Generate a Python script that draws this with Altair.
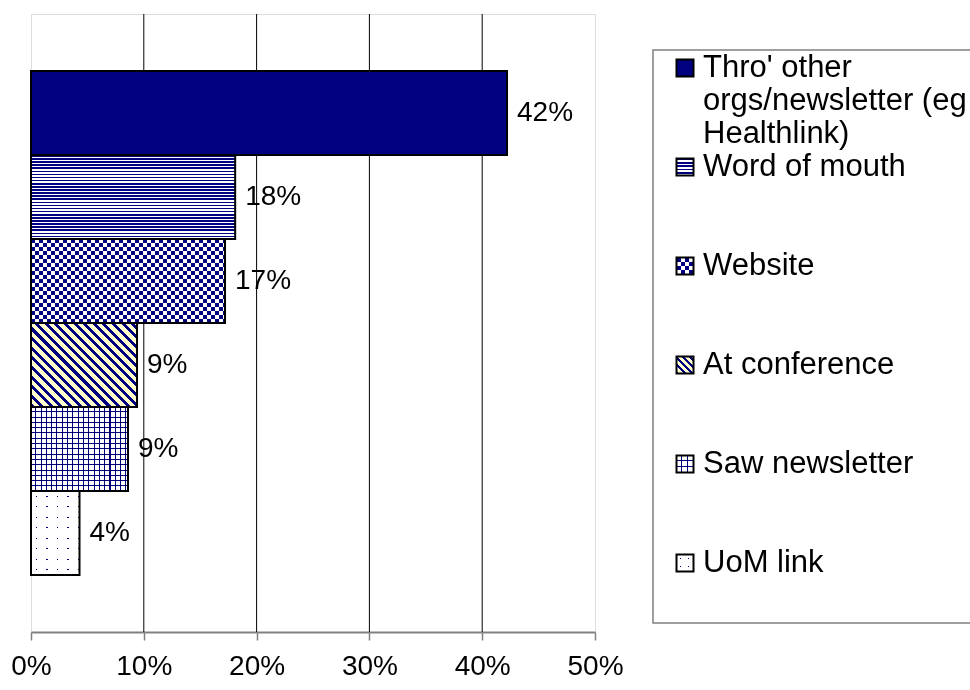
import altair as alt
import pandas as pd

# ---------------- data ----------------
series = [
    "Thro' other orgs/newsletter (eg Healthlink)",
    "Word of mouth",
    "Website",
    "At conference",
    "Saw newsletter",
    "UoM link",
]
legend_labels = [
    "Thro' other\norgs/newsletter (eg\nHealthlink)",
    "Word of mouth",
    "Website",
    "At conference",
    "Saw newsletter",
    "UoM link",
]
values = [0.422, 0.181, 0.172, 0.094, 0.086, 0.043]
x_ticks = [0.0, 0.1, 0.2, 0.3, 0.4, 0.5]
patterns = ["solid", "hstripes", "checker", "diag", "grid", "dots"]

# ---------------- style ----------------
FONT = "Liberation Sans"
W, H = 564, 618
PAD_L, PAD_T = 31, 14
XMAX = 0.5
PAD_OUTER = 0.68
BAR_H = H / (len(series) + 2 * PAD_OUTER)
NAVY, YELLOW, WHITE, BLACK = "#000080", "#FFFFCC", "#FFFFFF", "#000000"


def grad(period, length, parts, x1, y1, x2, y2):
    n = length / period
    stops = []
    i = 0
    while i < n:
        cum = 0.0
        for color, frac in parts:
            a = (i + cum) / n
            if a >= 1:
                break
            b = min((i + cum + frac) / n, 1.0)
            stops.append(alt.GradientStop(offset=round(a, 5), color=color))
            stops.append(alt.GradientStop(offset=round(b, 5), color=color))
            cum += frac
        i += 1
    return alt.LinearGradient(gradient="linear", stops=stops, x1=x1, y1=y1, x2=x2, y2=y2)


def diag(period, w, h, parts):
    r = h / w
    s = (1 + r) / (1 + r * r)
    length = (w + h) / 2 ** 0.5
    return grad(period, length, parts, 0, 1, s, 1 - s * r)


def pattern(kind, w, h, legend=False):
    if kind == "solid":
        return [(NAVY, None)]
    if kind == "hstripes":
        p = 3.4 if legend else 3.1
        return [(grad(p, h, [(NAVY, 0.5), (WHITE, 0.5)], 0, 0, 0, 1), None)]
    if kind == "checker":
        c = 4.25 if legend else 4.0
        return [
            (grad(2 * c, h, [(BLACK, 0.5), (WHITE, 0.5)], 0, 0, 0, 1), None),
            (grad(2 * c, w, [(BLACK, 0.5), (WHITE, 0.5)], 0, 0, 1, 0), "difference"),
            (NAVY, "lighten"),
        ]
    if kind == "diag":
        p = 5.0 if legend else 6.8
        return [(diag(p, w, h, [(NAVY, 0.42), (YELLOW, 0.58)]), None)]
    if kind == "grid":
        p = 5.7 if legend else 5.3
        f = 1.0 / p
        return [
            (grad(p, h, [(WHITE, 1 - f), (NAVY, f)], 0, 0, 0, 1), None),
            (grad(p, w, [(WHITE, 1 - f), (NAVY, f)], 0, 0, 1, 0), "multiply"),
        ]
    if kind == "dots":
        p = 8.0 if legend else 10.5
        f = 1.3 / p
        return [
            (grad(p, w, [(WHITE, 0.45), (NAVY, f), (WHITE, 0.55 - f)], 0, 0, 1, 0), None),
            (grad(p, h, [(WHITE, 0.45), (BLACK, f), (WHITE, 0.55 - f)], 0, 0, 0, 1), "lighten"),
        ]
    return [(NAVY, None)]


df = pd.DataFrame({"series": series, "value": values, "label": legend_labels})
grid_df = pd.DataFrame({"tick": x_ticks[1:-1]})

x_axis = alt.Axis(
    values=x_ticks, format=".0%", grid=False, title=None,
    labelFontSize=28, labelFont=FONT, labelColor=BLACK, labelPadding=12,
    labelFlush=False, domainColor="#808080", domainWidth=2,
    tickColor="#808080", tickSize=8, tickWidth=1.5,
)
x_scale = alt.Scale(domain=[0, XMAX], nice=False, zero=True)
x_bar = alt.X("value:Q", scale=x_scale, axis=x_axis)
y_bar = alt.Y(
    "series:N",
    scale=alt.Scale(type="band", domain=series, paddingInner=0, paddingOuter=PAD_OUTER),
    axis=None,
)

layers = []
layers.append(
    alt.Chart(grid_df).mark_rule(color=BLACK, strokeWidth=1, opacity=1).encode(
        x=alt.X("tick:Q", scale=x_scale, axis=x_axis)
    )
)

base = alt.Chart(df)
for name, val, kind in zip(series, values, patterns):
    w_px = val / XMAX * W
    sub = base.transform_filter(alt.FieldEqualPredicate(field="series", equal=name))
    for fill, blend in pattern(kind, w_px, BAR_H):
        kw = dict(fill=fill, opacity=1, strokeWidth=0)
        if blend:
            kw["blend"] = blend
        layers.append(sub.mark_bar(**kw).encode(x=x_bar, y=y_bar))

layers.append(
    base.mark_bar(fill=WHITE, fillOpacity=0, stroke=BLACK, strokeWidth=2, opacity=1).encode(x=x_bar, y=y_bar)
)
layers.append(
    base.mark_text(align="left", baseline="middle", dx=10, fontSize=28, font=FONT, color=BLACK).encode(
        x=x_bar, y=y_bar, text=alt.Text("value:Q", format=".0%")
    )
)

# ---------------- legend ----------------
LEG_X0, LEG_TOP, LEG_BOTTOM = 653 - PAD_L, 50 - PAD_T, 623 - PAD_T
SYM_X, TXT_X, SYM = 685 - PAD_L, 703 - PAD_L, 17
y_leg = alt.Y(
    "series:N",
    scale=alt.Scale(type="point", domain=series, range=[68 - PAD_T, 563 - PAD_T], padding=0),
    axis=None,
)

layers.append(
    alt.Chart(pd.DataFrame({"k": [0]})).mark_rect(fill=WHITE, stroke="#808080", strokeWidth=1.5, opacity=1).encode(
        x=alt.value(LEG_X0), x2=alt.value(LEG_X0 + 400), y=alt.value(LEG_TOP), y2=alt.value(LEG_BOTTOM)
    )
)
for name, kind in zip(series, patterns):
    sub = base.transform_filter(alt.FieldEqualPredicate(field="series", equal=name))
    for fill, blend in pattern(kind, SYM, SYM, legend=True):
        kw = dict(fill=fill, opacity=1, strokeWidth=0, size=SYM * SYM, shape="square")
        if blend:
            kw["blend"] = blend
        layers.append(sub.mark_point(filled=True, **kw).encode(x=alt.value(SYM_X), y=y_leg))
layers.append(
    base.mark_point(shape="square", size=SYM * SYM, fill=WHITE, fillOpacity=0, stroke=BLACK,
                    strokeWidth=2, opacity=1).encode(x=alt.value(SYM_X), y=y_leg)
)
layers.append(
    base.mark_text(align="left", baseline="top", dy=-15, fontSize=31, font=FONT, color=BLACK,
                   lineBreak="\n", lineHeight=33).encode(x=alt.value(TXT_X), y=y_leg, text="label:N")
)

chart = (
    alt.layer(*layers)
    .resolve_scale(y="independent")
    .properties(
        width=W, height=H,
        padding={"left": PAD_L, "top": PAD_T, "right": 970 - PAD_L - W, "bottom": 690 - PAD_T - H},
        autosize=alt.AutoSizeParams(type="none"),
        background="white",
    )
    .configure_view(stroke="#8c8c8c", strokeWidth=2)
    .configure(font=FONT)
)

chart.save("out.html", embed_options={"renderer": "svg", "actions": False})
